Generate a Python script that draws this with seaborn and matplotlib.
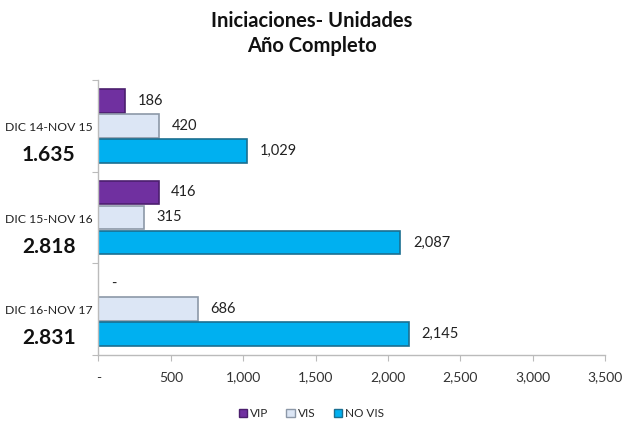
import numpy as np
import pandas as pd
import seaborn as sns
import matplotlib.pyplot as plt
from matplotlib.patches import Patch

periods = ["DIC 14-NOV 15", "DIC 15-NOV 16", "DIC 16-NOV 17"]
totals = ["1.635", "2.818", "2.831"]
series = ["VIP", "VIS", "NO VIS"]
vip = [186, 416, 0]
vis = [420, 315, 686]
novis = [1029, 2087, 2145]
colors = ["#7030A0", "#DCE6F5", "#00B0F0"]
edges = ["#4B1F6E", "#8C98A8", "#1B6F91"]

df = pd.DataFrame({
    "periodo": periods * 3,
    "serie": np.repeat(series, 3),
    "valor": vip + vis + novis,
})

sns.set_style("white")
plt.rcParams["font.family"] = ["Lato", "DejaVu Sans"]

fig = plt.figure(figsize=(6.23, 4.21), dpi=100)
ax = fig.add_axes([0.158, 0.157, 0.813, 0.653])

sns.barplot(data=df, y="periodo", x="valor", hue="serie", order=periods,
            hue_order=series, palette=colors, orient="h", width=0.82,
            legend=False, ax=ax, saturation=1)

for i, cont in enumerate(ax.containers):
    for bar in cont:
        bar.set_edgecolor(edges[i])
        bar.set_linewidth(1.2)
        h = bar.get_height()
        bar.set_height(h * 0.94)
        bar.set_y(bar.get_y() + h * 0.03)
    labels = []
    for v in cont.datavalues:
        labels.append("-" if v == 0 else f"{int(v):,}")
    ax.bar_label(cont, labels=labels, padding=9, fontsize=10.5, color="#222222")

ax.set_xlim(0, 3500)
ax.set_ylim(2.5, -0.5)
ticks = np.arange(0, 3501, 500)
ax.set_xticks(ticks)
ax.set_xticklabels(["-"] + [f"{t:,}" for t in ticks[1:]], fontsize=10, color="#333333")
ax.set_yticks([-0.5, 0.5, 1.5, 2.5])
ax.set_yticklabels([])
ax.set_xlabel("")
ax.set_ylabel("")
ax.tick_params(axis="both", length=4, color="#BBBBBB", direction="out",
               bottom=True, left=True)
ax.tick_params(axis="x", pad=8)
for s in ["top", "right"]:
    ax.spines[s].set_visible(False)
for s in ["left", "bottom"]:
    ax.spines[s].set_color("#BBBBBB")
    ax.spines[s].set_linewidth(1)

for i, (p, t) in enumerate(zip(periods, totals)):
    ax.text(-0.098, i + 0.02, p, transform=ax.get_yaxis_transform(),
            ha="center", va="center", fontsize=8.8, color="#222222")
    ax.text(-0.098, i + 0.32, t, transform=ax.get_yaxis_transform(),
            ha="center", va="center", fontsize=15, fontweight="bold", color="#111111")

fig.text(0.5, 0.92, "Iniciaciones- Unidades\nAño Completo", ha="center", va="center",
         fontsize=14.5, fontweight="bold", linespacing=1.3, color="#111111")

handles = [Patch(facecolor=c, edgecolor=e, label=s) for c, e, s in zip(colors, edges, series)]
fig.legend(handles=handles, loc="center", bbox_to_anchor=(0.5, 0.018), ncol=3,
           frameon=False, fontsize=8.5, handlelength=0.7, handleheight=0.7,
           handletextpad=0.3, columnspacing=1.5)

fig.savefig("out.png", dpi=100)
